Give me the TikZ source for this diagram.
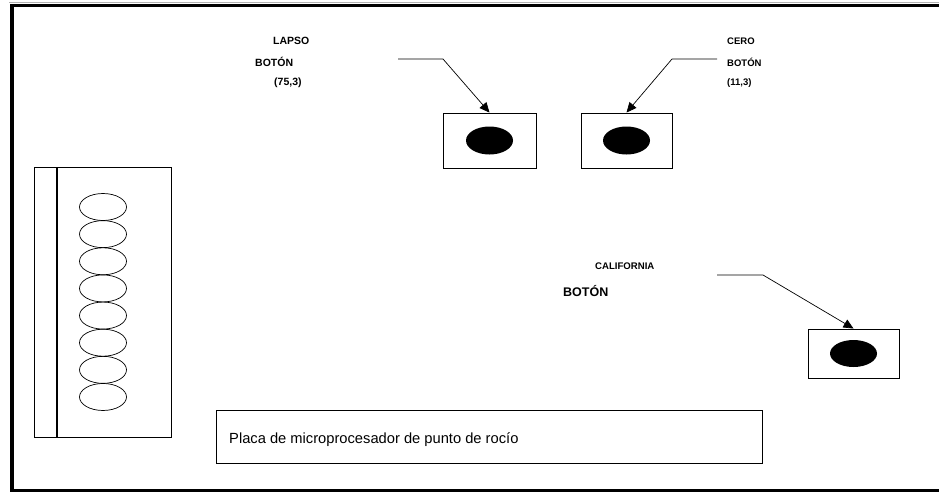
\documentclass[tikz,border=0pt]{standalone}
\usepackage{fontspec}
\setmainfont{Liberation Sans}
\usetikzlibrary{arrows.meta,shapes.geometric}
\begin{document}
\begin{tikzpicture}[x=1pt,y=-1pt,
  btnbox/.style={draw,line width=0.9pt,minimum width=93pt,minimum height=55pt,inner sep=0pt},
  btndot/.style={ellipse,fill=black,minimum width=47pt,minimum height=28pt,inner sep=0pt},
  led/.style={draw,line width=0.7pt,ellipse,minimum width=47pt,minimum height=27pt,inner sep=0pt},
  lbl/.style={font=\bfseries\fontsize{10.5}{12}\selectfont,anchor=west,inner sep=0pt},
  callout/.style={line width=0.7pt,-{Triangle[length=10pt,width=9pt]}}]
\useasboundingbox (0,0) rectangle (939,493);
\clip (0,0) rectangle (939,493);
\fill[white] (0,0) rectangle (939,493);
% outer frame
\draw[gray!60,line width=1pt] (9,2.5) -- (945,2.5);
\draw[line width=3.6pt] (945,5.5) -- (12,5.5) -- (12,490.5) -- (945,490.5);
% left panel
\node[draw,line width=0.9pt,minimum width=137pt,minimum height=270pt,inner sep=0pt] (panel) at (102.5,302) {};
\draw[line width=2pt] (57,167) -- (57,437);
\foreach \i in {0,...,7}{
  \node[led] (led\i) at (103,{207+27.14*\i}) {};
}
% buttons
\node[btnbox] (b1) at (489.5,140.5) {};
\node[btndot] (d1) at (b1.center) {};
\node[btnbox,minimum width=91pt] (b2) at (626.5,140.5) {};
\node[btndot] (d2) at (b2.center) {};
\node[btnbox,minimum width=91pt,minimum height=49pt] (b3) at (853.5,353.5) {};
\node[btndot,minimum height=27pt] (d3) at (b3.center) {};
% labels
\node[lbl] (t1a) at (273,41) {LAPSO};
\node[lbl] (t1b) at (255,62) {BOTÓN};
\node[lbl] (t1c) at (274,83) {(75,3)};
\node[lbl,font=\bfseries\fontsize{9.5}{11}\selectfont] (t2a) at (727,41) {CERO};
\node[lbl,font=\bfseries\fontsize{9.5}{11}\selectfont] (t2b) at (727,62) {BOTÓN};
\node[lbl,font=\bfseries\fontsize{9.5}{11}\selectfont] (t2c) at (727,83) {(11,3)};
\node[lbl,font=\bfseries\fontsize{9.6}{11}\selectfont] (t3a) at (595,266) {CALIFORNIA};
\node[lbl,font=\bfseries\fontsize{12.5}{14}\selectfont] (t3b) at (563,291) {BOTÓN};
% callouts
\coordinate (c1) at (398,59);
\coordinate (k1) at (443,59);
\draw[callout] (c1) -- (k1) -- (b1.north);
\coordinate (c2) at (717,59);
\coordinate (k2) at (672,59);
\draw[callout] (c2) -- (k2) -- (b2.north);
\coordinate (c3) at (717,275);
\coordinate (k3) at (763,275);
\draw[callout] (c3) -- (k3) -- (b3.north);
% bottom board box
\node[draw,line width=0.9pt,minimum width=546pt,minimum height=53pt,inner sep=0pt] (board) at (489,436.5) {};
\node[anchor=base west,inner sep=0pt,font=\fontsize{14.7}{17}\selectfont] (boardtxt) at (229,443) {Placa de microprocesador de punto de rocío};
\end{tikzpicture}
\end{document}
